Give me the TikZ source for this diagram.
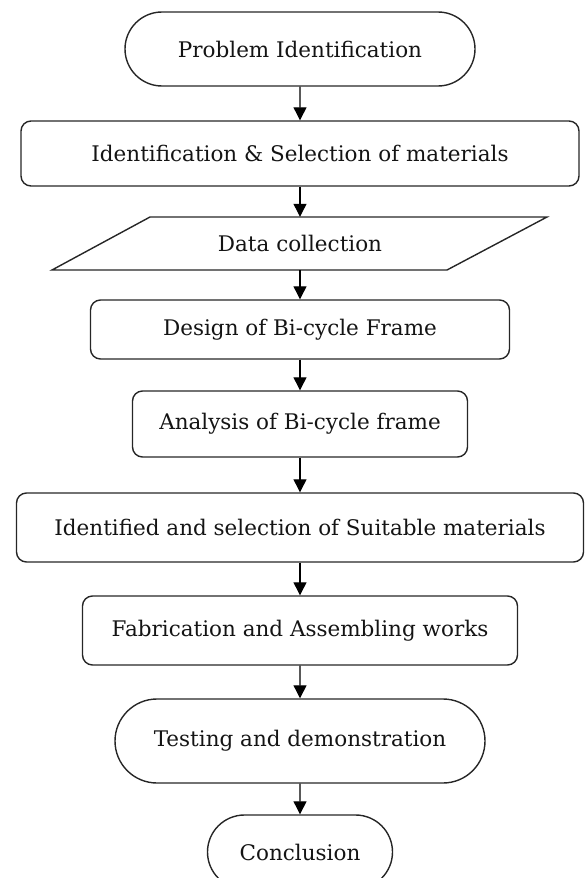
\documentclass[tikz,border=0pt]{standalone}
\usepackage{fontspec}
\setmainfont{DejaVu Serif}
\usetikzlibrary{shapes.misc,arrows.meta}
\begin{document}
\begin{tikzpicture}[x=1pt,y=-1pt,
  every node/.style={font=\fontsize{21.5}{24}\selectfont, text=black!92, inner sep=0pt},
  boxr/.style={draw=black!85, line width=1.4pt, rounded corners=10pt, rectangle},
  stad/.style={draw=black!85, line width=1.4pt, rounded rectangle, rounded rectangle arc length=180},
  arr/.style={draw=black, line width=1.2pt, -{Triangle[length=13pt,width=13pt]}}]
\useasboundingbox (0,0) rectangle (587,878);
\begin{scope}
\clip (0,0) rectangle (587,878);
\node[stad, minimum width=350pt, minimum height=74pt] (b1) at (300,49) {Problem Identification};
\node[boxr, minimum width=558pt, minimum height=65pt] (b2) at (300,153.5) {Identification \& Selection of materials};
\node[minimum width=300pt, minimum height=53pt] (b3) at (300,243.5) {Data collection};
\draw[black!85, line width=1.4pt] (150,217) -- (547,217) -- (447,270) -- (52,270) -- cycle;
\node[boxr, minimum width=419pt, minimum height=59pt] (b4) at (300,329.5) {Design of Bi-cycle Frame};
\node[boxr, minimum width=335pt, minimum height=66pt] (b5) at (300,424) {Analysis of Bi-cycle frame};
\node[boxr, minimum width=567pt, minimum height=69pt] (b6) at (300,527.5) {Identified and selection of Suitable materials};
\node[boxr, minimum width=435pt, minimum height=69pt] (b7) at (300,630.5) {Fabrication and Assembling works};
\node[stad, minimum width=370pt, minimum height=84pt] (b8) at (300,741) {Testing and demonstration};
\node[stad, minimum width=185pt, minimum height=74pt] (b9) at (300,852) {Conclusion};
\end{scope}
\draw[arr] (b1) -- (b2);
\draw[arr] (b2) -- (b3);
\draw[arr] (b3) -- (b4);
\draw[arr] (b4) -- (b5);
\draw[arr] (b5) -- (b6);
\draw[arr] (b6) -- (b7);
\draw[arr] (b7) -- (b8);
\draw[arr] (b8) -- (b9);
\end{tikzpicture}
\end{document}
